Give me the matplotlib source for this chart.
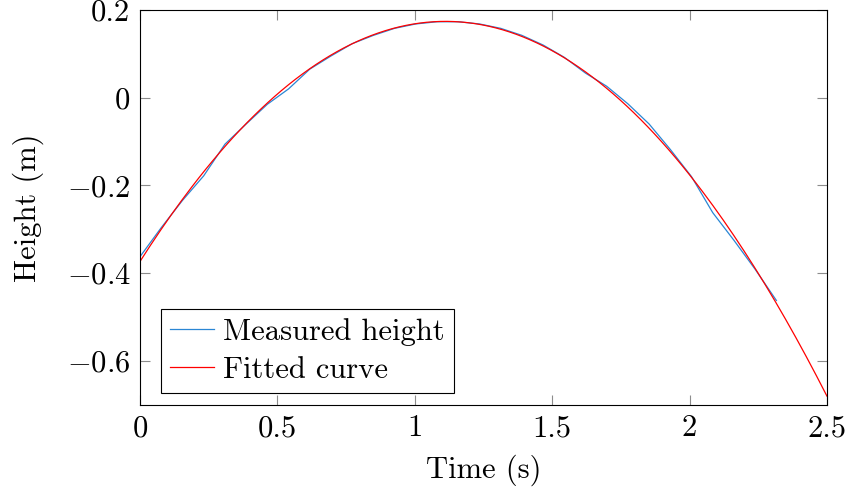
import numpy as np
import matplotlib
matplotlib.use("Agg")
import matplotlib.pyplot as plt

# measured heights, one sample every 0.0772 s
time_s = [0.0772 * i for i in range(31)]
height_m = [-0.362, -0.296, -0.234, -0.178, -0.106, -0.060, -0.015, 0.020,
            0.065, 0.095, 0.123, 0.142, 0.158, 0.168, 0.173, 0.173,
            0.168, 0.158, 0.142, 0.120, 0.092, 0.056, 0.026, -0.014,
            -0.060, -0.118, -0.180, -0.262, -0.325, -0.391, -0.462]

xticks = [0, 0.5, 1, 1.5, 2, 2.5]
yticks = [-0.6, -0.4, -0.2, 0, 0.2]

plt.rcParams["font.family"] = "serif"
plt.rcParams["font.serif"] = ["cmr10"]
plt.rcParams["mathtext.fontset"] = "cm"
plt.rcParams["axes.formatter.use_mathtext"] = True
plt.rcParams["font.size"] = 22

# quadratic fit of the measured trajectory
coef = np.polyfit(time_s, height_m, 2)
t_fit = np.linspace(0, 2.5, 200)
h_fit = np.polyval(coef, t_fit)

fig = plt.figure(figsize=(8.49, 4.95), dpi=100)
ax = fig.add_axes([0.165, 0.182, 0.809, 0.798])

ax.plot(time_s, height_m, color="#2a86d4", lw=0.9, label="Measured height")
ax.plot(t_fit, h_fit, color="#ff0000", lw=0.9, label="Fitted curve")

ax.set_xlim(0, 2.5)
ax.set_ylim(-0.7, 0.2)
ax.set_xticks(xticks)
ax.set_yticks(yticks)
ax.set_xticklabels(["0", "0.5", "1", "1.5", "2", "2.5"])
ax.set_yticklabels([r"$-0.6$", r"$-0.4$", r"$-0.2$", "0", "0.2"])
ax.tick_params(direction="in", length=7, width=0.8, color="#8c8c8c",
               top=True, right=True, pad=7)
for s in ax.spines.values():
    s.set_linewidth(0.8)

ax.set_xlabel("Time (s)", labelpad=9)
ax.set_ylabel("Height (m)", labelpad=16)

leg = ax.legend(loc="lower left", bbox_to_anchor=(0.03, 0.03), fancybox=False,
                edgecolor="black", framealpha=1, borderpad=0.3,
                handlelength=1.45, handletextpad=0.3, labelspacing=0.35,
                borderaxespad=0)
leg.get_frame().set_linewidth(0.8)

fig.savefig("out.png", dpi=100)
